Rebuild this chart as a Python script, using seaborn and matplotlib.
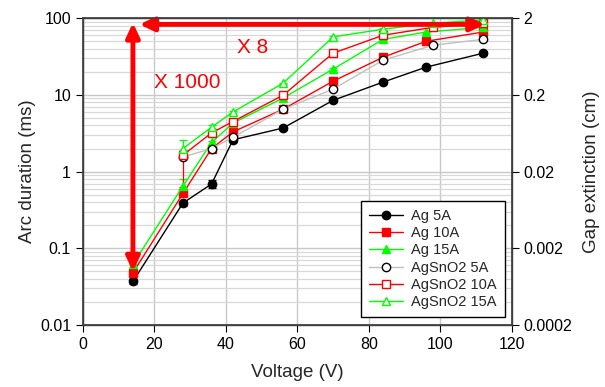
import matplotlib
matplotlib.use("Agg")
import matplotlib.pyplot as plt
import seaborn as sns
import numpy as np
import pandas as pd
from matplotlib.ticker import FixedLocator, FixedFormatter, LogLocator, NullFormatter

sns.set_theme(style="white")
plt.rcParams['font.family'] = ['Liberation Sans', 'DejaVu Sans']

# ---- data ----
v_ag = [14, 28, 36, 42, 56, 70, 84, 96, 112]
ag5 = [0.037, 0.39, 0.69, 2.6, 3.7, 8.5, 14.7, 23, 35]
ag10 = [0.048, 0.52, 2.0, 3.3, 6.5, 15.1, 31, 50, 66]
ag15 = [0.062, 0.65, 2.4, 4.3, 9.1, 21.7, 53, 66, 76]

v_sn = [28, 36, 42, 56, 70, 84, 98, 112]
sn5 = [1.55, 2.0, 2.8, 6.5, 11.9, 28.4, 44.5, 53]
sn10 = [1.64, 3.2, 4.5, 9.9, 35, 60, 76, 86]
sn15 = [2.0, 3.8, 6.0, 14.2, 57, 72, 86, 95]

# error bars (lower, upper)
ag5_err_lo = [0.003, 0.03, 0.08, 0.2, 0.2, 0.4, 0.7, 1.0, 1.5]
ag5_err_hi = [0.003, 0.03, 0.08, 0.2, 0.2, 0.4, 0.7, 1.0, 1.5]
ag15_err_lo = [0, 0.05, 0.1, 0.1, 0.2, 0.5, 1, 1, 1]
ag15_err_hi = [0, 0.15, 0.1, 0.1, 0.2, 0.5, 1, 1, 1]
sn10_err_lo = [1.0, 0.2, 0.2, 0.3, 1.5, 2, 2, 2]
sn10_err_hi = [0.1, 0.2, 0.2, 0.3, 1.5, 2, 2, 2]
sn15_err_lo = [0.1, 0.2, 0.2, 0.3, 1, 2, 2, 2]
sn15_err_hi = [0.6, 0.2, 0.2, 0.3, 1, 2, 2, 2]

xticks = [0, 20, 40, 60, 80, 100, 120]
yticks = [0.01, 0.1, 1, 10, 100]
ytick_labels = ["0.01", "0.1", "1", "10", "100"]
y2ticks = [0.0002, 0.002, 0.02, 0.2, 2]
y2tick_labels = ["0.0002", "0.002", "0.02", "0.2", "2"]

RED = "#ff0000"
GREEN = "#00ff00"
GREY = "#c0c0c0"

fig = plt.figure(figsize=(6.05, 3.87), dpi=100)
ax = fig.add_axes([0.137, 0.160, 0.709, 0.793])

series = [
    ("Ag 5A", v_ag, ag5, "black", "o", "black", "black", (ag5_err_lo, ag5_err_hi)),
    ("Ag 10A", v_ag, ag10, RED, "s", RED, RED, None),
    ("Ag 15A", v_ag, ag15, GREEN, "^", GREEN, GREEN, (ag15_err_lo, ag15_err_hi)),
    ("AgSnO2 5A", v_sn, sn5, GREY, "o", "white", "black", None),
    ("AgSnO2 10A", v_sn, sn10, RED, "s", "white", RED, (sn10_err_lo, sn10_err_hi)),
    ("AgSnO2 15A", v_sn, sn15, GREEN, "^", "white", GREEN, (sn15_err_lo, sn15_err_hi)),
]

msize = {"o": 6, "s": 5.5, "^": 6}
for label, xs, ys, lc, mk, mfc, mec, err in series:
    df = pd.DataFrame({"V": xs, "t": ys})
    if err is not None:
        ax.errorbar(df["V"], df["t"], yerr=[err[0], err[1]], fmt="none",
                    ecolor=mec, elinewidth=0.9, capsize=3, capthick=0.9, zorder=2)
    sns.lineplot(data=df, x="V", y="t", ax=ax, color=lc, marker=mk,
                 markersize=msize[mk], markerfacecolor=mfc,
                 markeredgecolor=mec, markeredgewidth=1.0, linewidth=1.0,
                 label=label, zorder=3)

ax.set_yscale("log")
ax.set_xlim(0, 120)
ax.set_ylim(0.01, 100)
ax.xaxis.set_major_locator(FixedLocator(xticks))
ax.set_xticklabels([str(t) for t in xticks])
ax.yaxis.set_major_locator(FixedLocator(yticks))
ax.yaxis.set_major_formatter(FixedFormatter(ytick_labels))
ax.yaxis.set_minor_locator(LogLocator(base=10, subs=np.arange(2, 10)))
ax.yaxis.set_minor_formatter(NullFormatter())

ax.grid(True, which="major", axis="both", color="#c8c8c8", linewidth=1.0)
ax.grid(True, which="minor", axis="y", color="#d8d8d8", linewidth=0.9)
ax.set_axisbelow(True)

ax.tick_params(axis="both", which="major", direction="out", length=5, width=0.8,
               labelsize=11.5, colors="black", left=True, bottom=True)
ax.tick_params(axis="y", which="minor", length=0)
for sp in ax.spines.values():
    sp.set_color("#404040")
    sp.set_linewidth(1.0)

ax.set_xlabel("Voltage (V)", fontsize=13.5, labelpad=9)
ax.set_ylabel("Arc duration (ms)", fontsize=13.5, labelpad=3)

ax2 = ax.twinx()
ax2.set_yscale("log")
ax2.set_ylim(0.0002, 2)
ax2.yaxis.set_major_locator(FixedLocator(y2ticks))
ax2.yaxis.set_major_formatter(FixedFormatter(y2tick_labels))
ax2.yaxis.set_minor_locator(LogLocator(base=10, subs=np.arange(2, 10)))
ax2.yaxis.set_minor_formatter(NullFormatter())
ax2.tick_params(axis="y", which="major", direction="out", length=5, width=0.8,
                labelsize=11.5, colors="black", right=True)
ax2.tick_params(axis="y", which="minor", length=0)
ax2.grid(False)
ax2.set_ylabel("Gap extinction (cm)", fontsize=13.5, labelpad=8)
for sp in ax2.spines.values():
    sp.set_color("#404040")

# annotation arrows
arrow_kw = dict(arrowstyle="<|-|>,head_length=0.7,head_width=0.33", color=RED,
                lw=3.5, shrinkA=0, shrinkB=0)
ax.annotate("", xy=(14, 0.05), xytext=(14, 87), arrowprops=arrow_kw, zorder=5)
ax.annotate("", xy=(112.5, 83), xytext=(15.8, 83), arrowprops=arrow_kw, zorder=5)
ax.text(20, 14.7, "X 1000", color=RED, fontsize=15, va="center", ha="left")
ax.text(43, 41, "X 8", color=RED, fontsize=15, va="center", ha="left")

leg = ax.legend(loc="lower right", bbox_to_anchor=(0.984, 0.026), borderaxespad=0,
                fontsize=10.5, frameon=True, fancybox=False, edgecolor="black",
                framealpha=1, handlelength=2.3, borderpad=0.55, labelspacing=0.22,
                handletextpad=0.6)
leg.get_frame().set_linewidth(1.0)

fig.savefig("out.png", dpi=100)
